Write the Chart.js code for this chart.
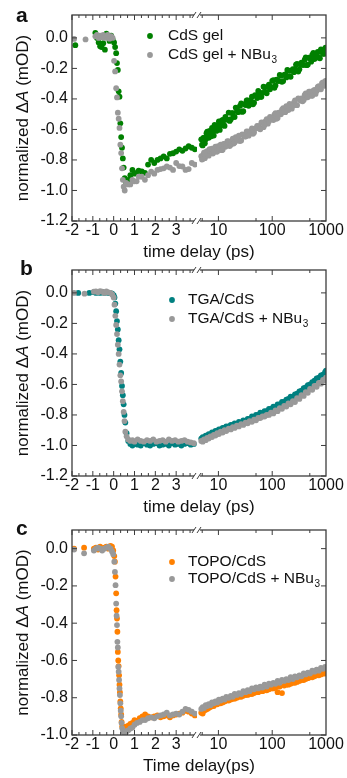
<!DOCTYPE html>
<html><head><meta charset="utf-8">
<script src="https://cdn.jsdelivr.net/npm/chart.js@4.4.1/dist/chart.umd.min.js"></script>
<style>
html,body{margin:0;padding:0;background:#fff;}
body{width:347px;height:778px;position:relative;overflow:hidden;}
canvas{position:absolute;left:0;}
</style></head><body>
<canvas id="ca" width="347" height="262" style="top:0px"></canvas>
<canvas id="cb" width="347" height="262" style="top:255px"></canvas>
<canvas id="cc" width="347" height="263" style="top:515px"></canvas>
<script>
// ---------- tick labels ----------
const X_LIN_TICKS = [-2, -1, 0, 1, 2, 3];
const X_LOG_TICKS = [10, 100, 1000];
const Y_TICKS_AB = [0, -0.2, -0.4, -0.6, -0.8, -1.0, -1.2];
const Y_TICKS_C = [0, -0.2, -0.4, -0.6, -0.8, -1.0];

// ---------- shared log-segment delays (ps) ----------
const LOG_T = [4.8, 5.1, 5.4, 5.8, 6.2, 6.6, 7.1, 7.6, 8.2, 8.8, 9.5, 10.2, 11, 12, 13, 14, 15.5, 17, 18.5, 20, 22, 24, 26.5, 29, 32, 35, 38, 42, 46, 50, 55, 60, 66, 72, 79, 87, 95, 105, 115, 126, 138, 152, 167, 183, 200, 220, 242, 265, 290, 320, 350, 385, 420, 460, 505, 555, 610, 670, 735, 805, 880, 960, 1000];
// extra delays of the second scan (panel a)
const LOG_T_A2 = [4.95, 5.25, 5.6, 6.0, 6.4, 6.85, 7.35, 7.9, 8.5, 9.15, 9.85, 10.6, 11.5, 12.5, 13.5, 14.7, 16.2, 17.7, 19.2, 21, 23, 25.2, 27.7, 30.5, 33.5, 36.5, 40, 44, 48, 52.5, 57.5, 63, 69, 75.5, 83, 91, 100, 110, 120, 132, 145, 160, 175, 191, 210, 231, 253, 277, 305, 335, 367, 402, 440, 482, 530, 582, 640, 702, 770, 842, 920, 980];

// ---------- panel a : CdS gel ----------
const T_LIN_A = [-1.9, -1.84, -1.35, -0.88, -0.8, -0.72, -0.65, -0.58, -0.5, -0.42, -0.35, -0.28, -0.2, -0.12, -0.05, 0.02, 0.07, 0.12, 0.16, 0.2, 0.24, 0.28, 0.32, 0.36, 0.4, 0.44, 0.48, 0.53, 0.6, 0.7, 0.8, 0.9, 1.0, 1.1, 1.2, 1.35, 1.5, 1.65, 1.8, 1.95, 2.1, 2.25, 2.4, 2.55, 2.7, 2.85, 3.0, 3.15, 3.3, 3.45, 3.6, 3.75, 3.9];
const CDS_GEL_LIN = [null, -0.048, null, 0.033, 0.0, -0.03, -0.055, -0.06, -0.035, -0.077, 0.028, 0.01, -0.02, 0.015, -0.01, -0.03, -0.06, -0.1, -0.165, -0.21, -0.35, -0.385, -0.56, -0.65, -0.72, -0.79, -0.85, -0.92, -0.95, -0.93, -0.9, -0.865, -0.89, -0.885, -0.87, -0.875, -0.885, -0.83, -0.8, -0.82, -0.8, -0.79, -0.777, -0.79, -0.76, -0.756, -0.745, -0.73, -0.74, -0.725, -0.71, -0.72, -0.73];
const CDS_GEL_NBU_LIN = [-0.007, null, -0.01, 0.01, 0.02, 0.0, 0.015, 0.005, 0.02, 0.0, 0.01, 0.02, -0.005, 0.012, 0.0, -0.15, -0.22, -0.33, -0.39, -0.49, -0.53, -0.59, -0.7, -0.755, -0.855, -0.93, -0.975, -1.0, -0.95, -0.96, -0.96, -0.93, -0.94, -0.94, -0.91, -0.91, -0.93, -0.9, -0.876, -0.89, -0.865, -0.86, -0.855, -0.843, -0.85, -0.865, -0.82, -0.84, -0.843, -0.865, -0.86, -0.82, -0.83];
const CDS_GEL_LOG = [-0.665, -0.705, -0.655, -0.665, -0.615, -0.655, -0.625, -0.59, -0.64, -0.585, -0.60, -0.548, -0.573, -0.537, -0.577, -0.533, -0.49, -0.533, -0.493, -0.518, -0.467, -0.482, -0.43, -0.48, -0.44, -0.41, -0.435, -0.385, -0.425, -0.38, -0.348, -0.387, -0.36, -0.324, -0.363, -0.307, -0.322, -0.277, -0.312, -0.278, -0.243, -0.288, -0.243, -0.259, -0.215, -0.255, -0.205, -0.205, -0.171, -0.206, -0.162, -0.177, -0.128, -0.175, -0.135, -0.112, -0.139, -0.106, -0.128, -0.075, -0.103, -0.071, -0.072];
const CDS_GEL_LOG2 = [-0.70, -0.655, -0.69, -0.625, -0.65, -0.61, -0.645, -0.605, -0.57, -0.61, -0.572, -0.603, -0.542, -0.567, -0.517, -0.537, -0.544, -0.493, -0.518, -0.457, -0.487, -0.446, -0.485, -0.435, -0.41, -0.445, -0.41, -0.435, -0.375, -0.394, -0.357, -0.386, -0.32, -0.354, -0.318, -0.337, -0.282, -0.327, -0.273, -0.283, -0.248, -0.283, -0.239, -0.21, -0.25, -0.215, -0.225, -0.175, -0.221, -0.172, -0.177, -0.143, -0.179, -0.13, -0.156, -0.098, -0.13, -0.092, -0.134, -0.092, -0.105, -0.064];
const CDS_GEL_NBU_LOG = [-0.775, -0.793, -0.752, -0.77, -0.743, -0.772, -0.741, -0.726, -0.746, -0.712, -0.745, -0.728, -0.70, -0.733, -0.697, -0.706, -0.678, -0.701, -0.66, -0.685, -0.662, -0.64, -0.672, -0.635, -0.647, -0.615, -0.628, -0.593, -0.62, -0.592, -0.578, -0.599, -0.555, -0.571, -0.532, -0.547, -0.523, -0.538, -0.494, -0.525, -0.491, -0.471, -0.487, -0.448, -0.473, -0.439, -0.445, -0.41, -0.441, -0.401, -0.396, -0.407, -0.364, -0.387, -0.353, -0.38, -0.341, -0.348, -0.317, -0.337, -0.291, -0.31, -0.285];
const CDS_GEL_NBU_LOG2 = [-0.797, -0.765, -0.788, -0.746, -0.76, -0.729, -0.753, -0.758, -0.724, -0.746, -0.709, -0.729, -0.736, -0.695, -0.714, -0.677, -0.709, -0.678, -0.692, -0.651, -0.673, -0.676, -0.633, -0.646, -0.613, -0.641, -0.608, -0.629, -0.596, -0.577, -0.593, -0.554, -0.585, -0.546, -0.562, -0.517, -0.533, -0.503, -0.53, -0.49, -0.501, -0.461, -0.487, -0.458, -0.433, -0.464, -0.425, -0.44, -0.396, -0.411, -0.416, -0.373, -0.39, -0.352, -0.379, -0.345, -0.367, -0.322, -0.332, -0.296, -0.315, -0.282];

// ---------- panel b : TGA/CdS ----------
const T_LIN_B = [-1.9, -1.7, -1.4, -1.17, -0.95, -0.85, -0.75, -0.65, -0.55, -0.45, -0.35, -0.25, -0.15, -0.07, 0.0, 0.04, 0.08, 0.12, 0.16, 0.2, 0.24, 0.28, 0.32, 0.36, 0.4, 0.44, 0.48, 0.52, 0.56, 0.62, 0.7, 0.8, 0.9, 1.0, 1.15, 1.3, 1.45, 1.6, 1.75, 1.9, 2.05, 2.2, 2.35, 2.5, 2.65, 2.8, 2.95, 3.1, 3.25, 3.4, 3.55, 3.7, 3.85];
const TGA_LIN = [null, 0.0, null, 0.0, 0.005, 0.0, 0.004, 0.0, 0.006, 0.0, 0.004, 0.0, -0.002, -0.005, -0.015, -0.03, -0.07, -0.12, -0.185, -0.24, -0.31, -0.37, -0.45, -0.525, -0.61, -0.67, -0.73, -0.8, -0.85, -0.92, -0.97, -0.99, -1.0, -0.99, -0.995, -1.0, -0.985, -0.995, -1.0, -0.99, -0.985, -1.0, -0.995, -0.99, -1.0, -0.985, -0.995, -0.99, -1.0, -0.99, -0.985, -0.995, -0.99];
const TGA_NBU_LIN = [0.0, null, -0.005, null, 0.008, 0.01, 0.005, 0.012, 0.008, 0.0, 0.01, 0.003, 0.0, -0.01, -0.03, -0.077, -0.15, -0.21, -0.27, -0.34, -0.40, -0.47, -0.54, -0.58, -0.645, -0.71, -0.78, -0.84, -0.91, -0.94, -0.96, -0.97, -0.965, -0.975, -0.96, -0.97, -0.975, -0.965, -0.97, -0.96, -0.975, -0.97, -0.965, -0.975, -0.96, -0.97, -0.965, -0.975, -0.97, -0.965, -0.975, -0.98, -0.985];
const TGA_LOG = [-0.955, -0.945, -0.95, -0.935, -0.935, -0.925, -0.93, -0.915, -0.92, -0.905, -0.905, -0.895, -0.895, -0.885, -0.885, -0.875, -0.875, -0.865, -0.865, -0.855, -0.86, -0.845, -0.85, -0.835, -0.84, -0.825, -0.825, -0.81, -0.815, -0.80, -0.80, -0.785, -0.79, -0.775, -0.775, -0.76, -0.76, -0.745, -0.745, -0.73, -0.73, -0.715, -0.715, -0.70, -0.695, -0.68, -0.68, -0.665, -0.66, -0.645, -0.64, -0.625, -0.62, -0.605, -0.60, -0.585, -0.575, -0.56, -0.555, -0.54, -0.535, -0.52, -0.51];
const TGA_NBU_LOG = [-0.97, -0.975, -0.96, -0.965, -0.95, -0.955, -0.94, -0.945, -0.93, -0.935, -0.92, -0.925, -0.91, -0.915, -0.90, -0.905, -0.89, -0.895, -0.88, -0.885, -0.87, -0.875, -0.86, -0.865, -0.85, -0.855, -0.84, -0.845, -0.83, -0.835, -0.82, -0.82, -0.81, -0.81, -0.80, -0.80, -0.785, -0.79, -0.77, -0.775, -0.755, -0.76, -0.74, -0.745, -0.725, -0.73, -0.71, -0.715, -0.69, -0.695, -0.67, -0.675, -0.65, -0.655, -0.63, -0.635, -0.61, -0.615, -0.59, -0.595, -0.57, -0.575, -0.555];

// ---------- panel c : TOPO/CdS ----------
const T_LIN_C = [-1.9, -1.42, -0.95, -0.85, -0.75, -0.65, -0.55, -0.45, -0.35, -0.25, -0.15, -0.08, -0.02, 0.03, 0.06, 0.09, 0.12, 0.14, 0.16, 0.18, 0.2, 0.22, 0.24, 0.26, 0.28, 0.3, 0.32, 0.34, 0.36, 0.38, 0.41, 0.45, 0.5, 0.55, 0.62, 0.7, 0.8, 0.9, 1.0, 1.12, 1.25, 1.38, 1.51, 1.65, 1.8, 1.95, 2.1, 2.25, 2.4, 2.55, 2.7, 2.85, 3.0, 3.15, 3.3, 3.45, 3.6, 3.75, 3.9];
const TOPO_LIN = [0.0, 0.005, 0.0, 0.005, -0.005, 0.01, 0.0, 0.005, 0.01, 0.0, 0.015, 0.01, -0.01, -0.04, -0.07, -0.15, -0.24, -0.33, -0.375, -0.446, -0.554, -0.6, -0.63, -0.68, -0.73, -0.77, -0.82, -0.857, -0.89, -0.93, -0.955, -0.96, -0.965, -0.955, -0.96, -0.95, -0.94, -0.935, -0.92, -0.925, -0.91, -0.9, -0.89, -0.9, -0.905, -0.9, -0.895, -0.905, -0.9, -0.895, -0.905, -0.895, -0.89, -0.885, -0.88, -0.87, -0.875, -0.885, -0.895];
const TOPO_NBU_LIN = [-0.005, -0.025, -0.01, 0.0, 0.005, 0.0, -0.01, 0.0, 0.005, 0.01, 0.0, -0.015, -0.03, -0.07, -0.125, -0.196, -0.295, -0.36, -0.41, -0.5, -0.53, -0.634, -0.66, -0.705, -0.75, -0.786, -0.83, -0.87, -0.9, -0.935, -0.964, -0.98, -0.99, -0.985, -0.98, -0.975, -0.965, -0.96, -0.945, -0.935, -0.93, -0.92, -0.92, -0.91, -0.905, -0.91, -0.9, -0.895, -0.89, -0.88, -0.895, -0.89, -0.885, -0.89, -0.875, -0.86, -0.865, -0.875, -0.885];
const TOPO_LOG = [-0.88, -0.885, -0.87, -0.865, -0.86, -0.855, -0.85, -0.845, -0.845, -0.835, -0.835, -0.83, -0.83, -0.825, -0.82, -0.815, -0.815, -0.81, -0.805, -0.805, -0.8, -0.795, -0.795, -0.79, -0.785, -0.785, -0.78, -0.78, -0.775, -0.77, -0.77, -0.765, -0.765, -0.76, -0.76, -0.755, -0.75, -0.75, -0.745, -0.77, -0.74, -0.775, -0.735, -0.73, -0.73, -0.725, -0.72, -0.72, -0.715, -0.71, -0.705, -0.705, -0.7, -0.695, -0.69, -0.69, -0.685, -0.68, -0.68, -0.675, -0.67, -0.67, -0.665];
const TOPO_NBU_LOG = [-0.86, -0.85, -0.855, -0.84, -0.845, -0.835, -0.84, -0.825, -0.83, -0.82, -0.825, -0.81, -0.815, -0.805, -0.81, -0.795, -0.8, -0.79, -0.795, -0.78, -0.785, -0.775, -0.78, -0.765, -0.77, -0.76, -0.765, -0.75, -0.755, -0.745, -0.75, -0.74, -0.745, -0.73, -0.74, -0.725, -0.73, -0.72, -0.725, -0.71, -0.72, -0.705, -0.71, -0.7, -0.705, -0.69, -0.7, -0.685, -0.69, -0.68, -0.685, -0.67, -0.675, -0.665, -0.67, -0.655, -0.66, -0.65, -0.655, -0.64, -0.645, -0.635, -0.64];

// ---------- style ----------
const FONT = "'Liberation Sans', Arial, sans-serif";
const TXT = '#111';
const AXC = '#3c3c3c';
const GRAY = '#999999';

function pts(times, vals) {
  const out = [];
  for (let i = 0; i < times.length; i++) if (vals[i] !== null) out.push({x: times[i], y: vals[i]});
  return out;
}

const PANELS = [
  {id: 'ca', letter: 'a', letterX: 16, letterY: 22, yMin: -1.2, yMax: 0.15, yTicks: Y_TICKS_AB,
   xTitle: 'time delay (ps)', color: '#008000', padBottom: 7,
   tLin: T_LIN_A, colLin: CDS_GEL_LIN, grayLin: CDS_GEL_NBU_LIN,
   logSets: [[LOG_T, CDS_GEL_LOG, CDS_GEL_NBU_LOG], [LOG_T_A2, CDS_GEL_LOG2, CDS_GEL_NBU_LOG2]],
   name: 'CdS gel', legX: 150, legTextX: 168, legY: [36, 55]},
  {id: 'cb', letter: 'b', letterX: 20, letterY: 20, yMin: -1.2, yMax: 0.15, yTicks: Y_TICKS_AB,
   xTitle: 'time delay (ps)', color: '#008080', padBottom: 7,
   tLin: T_LIN_B, colLin: TGA_LIN, grayLin: TGA_NBU_LIN,
   logSets: [[LOG_T, TGA_LOG, TGA_NBU_LOG]],
   name: 'TGA/CdS', legX: 172, legTextX: 188, legY: [45, 64]},
  {id: 'cc', letter: 'c', letterX: 16, letterY: 20, yMin: -1.0, yMax: 0.1, yTicks: Y_TICKS_C,
   xTitle: 'Time delay(ps)', color: '#ff8000', padBottom: 9,
   tLin: T_LIN_C, colLin: TOPO_LIN, grayLin: TOPO_NBU_LIN,
   logSets: [[LOG_T, TOPO_LOG, TOPO_NBU_LOG]],
   name: 'TOPO/CdS', legX: 172, legTextX: 188, legY: [47, 64]}
];

const decorPlugin = {
  id: 'decor',
  afterDraw(chart) {
    const P = chart.options.plugins.decor;
    const ctx = chart.ctx;
    const {left, right, top, bottom} = chart.chartArea;
    const xs = chart.scales.x, xl = chart.scales.x2, ys = chart.scales.y;
    ctx.save();
    ctx.strokeStyle = AXC; ctx.lineWidth = 1.3;
    ctx.strokeRect(left, top, right - left, bottom - top);
    const tickX = (px, len) => {
      ctx.beginPath();
      ctx.moveTo(px, bottom); ctx.lineTo(px, bottom - len);
      ctx.moveTo(px, top); ctx.lineTo(px, top + len);
      ctx.stroke();
    };
    ctx.lineWidth = 1;
    for (let k = -6; k <= 11; k++) {
      tickX(xs.getPixelForValue(k / 3), k % 3 === 0 ? 5 : 3);
    }
    [5, 10, 50, 100, 500].forEach(v => tickX(xl.getPixelForValue(v), (v === 10 || v === 100) ? 5 : 3));
    P.yTicks.forEach(v => {
      const py = ys.getPixelForValue(v);
      ctx.beginPath();
      ctx.moveTo(left, py); ctx.lineTo(left + 5, py);
      ctx.moveTo(right, py); ctx.lineTo(right - 5, py);
      ctx.stroke();
    });
    // axis break marks
    const bx = xs.right;
    [top, bottom].forEach(y => {
      ctx.fillStyle = '#fff'; ctx.fillRect(bx - 3, y - 2, 6, 4);
      ctx.strokeStyle = AXC; ctx.lineWidth = 1;
      ctx.beginPath();
      ctx.moveTo(bx - 5, y + 3); ctx.lineTo(bx - 1, y - 3);
      ctx.moveTo(bx + 0, y + 3); ctx.lineTo(bx + 4, y - 3);
      ctx.stroke();
    });
    // x title
    ctx.fillStyle = TXT;
    ctx.font = '17px ' + FONT;
    ctx.textAlign = 'center'; ctx.textBaseline = 'middle';
    ctx.fillText(P.xTitle, (left + right) / 2, bottom + 31);
    // y title with italic A
    const parts = [['normalized \u0394', '17px '], ['A', 'italic 17px '], [' (mOD)', '17px ']];
    let total = 0;
    parts.forEach(p => { ctx.font = p[1] + FONT; total += ctx.measureText(p[0]).width; });
    ctx.save();
    ctx.translate(23, (top + bottom) / 2);
    ctx.rotate(-Math.PI / 2);
    ctx.textAlign = 'left';
    let cx = -total / 2;
    parts.forEach(p => { ctx.font = p[1] + FONT; ctx.fillText(p[0], cx, 0); cx += ctx.measureText(p[0]).width; });
    ctx.restore();
    // panel letter
    ctx.font = 'bold 21px ' + FONT;
    ctx.textAlign = 'left'; ctx.textBaseline = 'alphabetic';
    ctx.fillText(P.letter, P.letterX, P.letterY);
    // legend
    const entries = [[P.name, P.color, false], [P.name + ' + NBu', GRAY, true]];
    entries.forEach((e, i) => {
      const y = P.legY[i];
      ctx.fillStyle = e[1];
      ctx.beginPath(); ctx.arc(P.legX, y, 2.9, 0, Math.PI * 2); ctx.fill();
      ctx.fillStyle = TXT;
      ctx.font = '15.5px ' + FONT; ctx.textAlign = 'left'; ctx.textBaseline = 'middle';
      ctx.fillText(e[0], P.legTextX, y);
      if (e[2]) {
        const w = ctx.measureText(e[0]).width;
        ctx.font = '10px ' + FONT;
        ctx.fillText('3', P.legTextX + w + 0.5, y + 5);
      }
    });
    ctx.restore();
  }
};

PANELS.forEach(P => {
  const tickFont = {family: FONT, size: 16};
  const mk = (data, axis, color) => ({
    data, xAxisID: axis, yAxisID: 'y', backgroundColor: color, borderWidth: 0,
    pointRadius: 2.9, pointHoverRadius: 2.9, showLine: false
  });
  const grays = [mk(pts(P.tLin, P.grayLin), 'x', GRAY)];
  const cols = [mk(pts(P.tLin, P.colLin), 'x', P.color)];
  P.logSets.forEach(s => {
    grays.push(mk(pts(s[0], s[2]), 'x2', GRAY));
    cols.push(mk(pts(s[0], s[1]), 'x2', P.color));
  });
  new Chart(document.getElementById(P.id), {
    type: 'scatter',
    data: {datasets: grays.concat(cols)},
    options: {
      responsive: false, animation: false, events: [],
      layout: {padding: {left: 0, top: 15, right: 21, bottom: P.padBottom}},
      plugins: {legend: {display: false}, tooltip: {enabled: false},
        decor: {yTicks: P.yTicks, xTitle: P.xTitle, letter: P.letter, letterX: P.letterX, letterY: P.letterY,
          name: P.name, color: P.color, legX: P.legX, legTextX: P.legTextX, legY: P.legY}},
      scales: {
        x: {type: 'linear', position: 'bottom', stack: 'xs', stackWeight: 125, min: -2, max: 4,
          afterBuildTicks: s => { s.ticks = X_LIN_TICKS.map(v => ({value: v})); },
          afterFit: s => { s.height = 34; },
          ticks: {autoSkip: false, maxRotation: 0, font: tickFont, color: TXT, padding: 0, callback: v => String(v)},
          grid: {display: false, drawTicks: false}, border: {display: false}},
        x2: {type: 'logarithmic', position: 'bottom', stack: 'xs', stackWeight: 129, min: 4, max: 1000,
          afterBuildTicks: s => { s.ticks = X_LOG_TICKS.map(v => ({value: v})); },
          afterFit: s => { s.height = 34; },
          ticks: {autoSkip: false, maxRotation: 0, font: tickFont, color: TXT, padding: 0, callback: v => String(v)},
          grid: {display: false, drawTicks: false}, border: {display: false}},
        y: {type: 'linear', position: 'left', min: P.yMin, max: P.yMax,
          afterBuildTicks: s => { s.ticks = P.yTicks.map(v => ({value: v})); },
          afterFit: s => { s.width = 72; },
          ticks: {font: tickFont, color: TXT, padding: 4, callback: v => v.toFixed(1)},
          grid: {display: false, drawTicks: false}, border: {display: false}}
      }
    },
    plugins: [decorPlugin]
  });
});
</script>
</body></html>
